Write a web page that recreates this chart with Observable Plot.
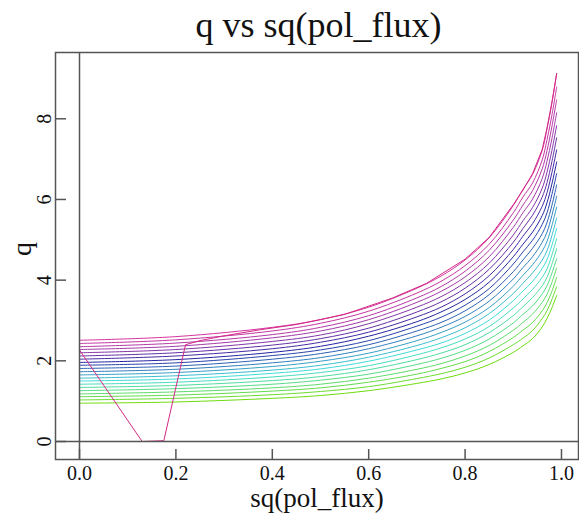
<!DOCTYPE html>
<html><head><meta charset="utf-8">
<script src="https://cdn.jsdelivr.net/npm/d3@7"></script>
<script src="https://cdn.jsdelivr.net/npm/@observablehq/plot@0.6"></script>
<style>
body{margin:0;background:#fff;}
#title{width:579px;height:50px;box-sizing:border-box;padding-left:58px;text-align:center;font-family:"Liberation Serif",serif;font-size:36px;line-height:50px;color:#111;white-space:nowrap;}
</style></head><body>
<div id="title">q vs sq(pol_flux)</div>
<div id="chart"></div>
<script>
const xTicks = [0, 0.2, 0.4, 0.6, 0.8, 1.0];
const yTicks = [0, 2, 4, 6, 8];
const xGrid = [0, 0.2, 0.4, 0.5, 0.6, 0.7, 0.75, 0.8, 0.85, 0.9, 0.92, 0.94, 0.96, 0.97, 0.98, 0.99];
// q profiles, bottom (green) to top (magenta)
const curves = [
  [0.95, 0.98, 1.07, 1.14, 1.26, 1.44, 1.55, 1.70, 1.91, 2.21, 2.37, 2.55, 2.84, 3.05, 3.31, 3.62],
  [1.03, 1.07, 1.16, 1.24, 1.36, 1.56, 1.68, 1.84, 2.07, 2.40, 2.56, 2.75, 3.05, 3.24, 3.52, 3.84],
  [1.11, 1.15, 1.25, 1.33, 1.47, 1.67, 1.81, 1.98, 2.23, 2.58, 2.76, 2.95, 3.24, 3.44, 3.72, 4.07],
  [1.18, 1.23, 1.33, 1.42, 1.57, 1.79, 1.93, 2.12, 2.38, 2.76, 2.95, 3.16, 3.45, 3.65, 3.94, 4.30],
  [1.26, 1.31, 1.42, 1.52, 1.67, 1.91, 2.06, 2.26, 2.54, 2.94, 3.15, 3.36, 3.66, 3.86, 4.17, 4.53],
  [1.34, 1.39, 1.51, 1.61, 1.78, 2.03, 2.19, 2.40, 2.70, 3.12, 3.34, 3.57, 3.86, 4.07, 4.39, 4.78],
  [1.42, 1.47, 1.60, 1.71, 1.88, 2.15, 2.32, 2.54, 2.85, 3.31, 3.53, 3.77, 4.07, 4.28, 4.62, 5.03],
  [1.50, 1.55, 1.69, 1.80, 1.99, 2.27, 2.44, 2.68, 3.01, 3.49, 3.73, 3.97, 4.29, 4.51, 4.86, 5.28],
  [1.57, 1.63, 1.77, 1.89, 2.09, 2.38, 2.57, 2.82, 3.17, 3.67, 3.92, 4.18, 4.50, 4.73, 5.10, 5.54],
  [1.65, 1.71, 1.86, 1.99, 2.19, 2.50, 2.70, 2.96, 3.32, 3.85, 4.12, 4.38, 4.72, 4.96, 5.35, 5.81],
  [1.73, 1.79, 1.95, 2.08, 2.30, 2.62, 2.83, 3.10, 3.48, 4.03, 4.31, 4.58, 4.94, 5.19, 5.60, 6.08],
  [1.81, 1.87, 2.04, 2.18, 2.40, 2.74, 2.95, 3.24, 3.64, 4.21, 4.50, 4.79, 5.15, 5.43, 5.85, 6.36],
  [1.89, 1.95, 2.13, 2.27, 2.50, 2.86, 3.08, 3.38, 3.79, 4.40, 4.70, 4.99, 5.38, 5.67, 6.12, 6.64],
  [1.96, 2.03, 2.21, 2.36, 2.61, 2.97, 3.21, 3.52, 3.95, 4.58, 4.89, 5.19, 5.60, 5.92, 6.38, 6.93],
  [2.04, 2.12, 2.30, 2.46, 2.71, 3.09, 3.33, 3.66, 4.11, 4.76, 5.09, 5.40, 5.83, 6.17, 6.66, 7.23],
  [2.12, 2.20, 2.39, 2.55, 2.81, 3.21, 3.46, 3.80, 4.27, 4.94, 5.28, 5.61, 6.06, 6.42, 6.93, 7.53],
  [2.20, 2.28, 2.48, 2.64, 2.92, 3.33, 3.59, 3.94, 4.42, 5.12, 5.47, 5.80, 6.28, 6.68, 7.21, 7.83],
  [2.28, 2.36, 2.57, 2.74, 3.02, 3.45, 3.72, 4.08, 4.58, 5.31, 5.67, 6.01, 6.52, 6.95, 7.50, 8.15],
  [2.35, 2.44, 2.65, 2.83, 3.12, 3.56, 3.84, 4.22, 4.74, 5.49, 5.86, 6.22, 6.76, 7.21, 7.80, 8.47],
  [2.43, 2.52, 2.74, 2.93, 3.23, 3.68, 3.97, 4.36, 4.89, 5.67, 6.06, 6.41, 6.98, 7.48, 8.08, 8.79],
  [2.51, 2.60, 2.83, 3.02, 3.33, 3.80, 4.10, 4.50, 5.05, 5.85, 6.25, 6.62, 7.22, 7.75, 8.38, 9.12]
];
// the odd profile that dips to zero
const oddX = [0, 0.13, 0.175, 0.22, 0.25, 0.3, 0.375, 0.45, 0.55, 0.65, 0.72, 0.8, 0.85, 0.9, 0.92, 0.94, 0.96, 0.97, 0.98, 0.99];
const oddQ = [2.27, 0.0, 0.02, 2.40, 2.50, 2.62, 2.77, 2.90, 3.15, 3.56, 3.92, 4.52, 5.06, 5.87, 6.23, 6.64, 7.24, 7.77, 8.40, 9.12];

const rows = [];
curves.forEach((qs, k) => qs.forEach((q, j) => rows.push({x: xGrid[j], q, k})));
const odd = oddX.map((x, j) => ({x, q: oddQ[j]}));

const axisColor = "#555";
const chart = Plot.plot({
  width: 579, height: 465,
  marginTop: 2, marginLeft: 55, marginRight: 1, marginBottom: 56,
  x: {domain: [-0.0498, 1.0353]},
  y: {domain: [-0.446, 9.643]},
  color: {type: "linear", domain: [0, 3, 7, 13, 17, 20],
          range: ["#6ddc0e", "#5ddc6a", "#3edcd8", "#2424a2", "#a43aaa", "#d6339e"]},
  style: {fontFamily: "Liberation Serif, serif", fontSize: "20px", color: "#111", background: "white"},
  marks: [
    Plot.line(rows, {x: "x", y: "q", z: "k", stroke: "k", strokeWidth: 1, curve: "catmull-rom"}),
    Plot.line(odd, {x: "x", y: "q", stroke: "#d42a86", strokeWidth: 1}),
    Plot.ruleX([0], {stroke: axisColor, strokeWidth: 1.5}),
    Plot.ruleY([0], {stroke: axisColor, strokeWidth: 1.5}),
    Plot.frame({stroke: axisColor, strokeWidth: 1.5}),
    Plot.axisX(xTicks, {tickSize: -10, tickFormat: () => "", label: null, stroke: axisColor, strokeWidth: 1.5}),
    Plot.axisX(xTicks, {tickSize: 0, tickPadding: 6, tickFormat: d3.format(".1f"), label: null, fontSize: 20}),
    Plot.axisY(yTicks, {tickSize: -11, tickFormat: () => "", label: null, stroke: axisColor, strokeWidth: 1.5}),
    Plot.axisY(yTicks, {tickSize: 0, tickPadding: 5, tickRotate: -90, tickFormat: d => String(d), label: null, fontSize: 20}),
    Plot.text(["q"], {frameAnchor: "left", dx: -33, rotate: -90, fontSize: 28}),
    Plot.text(["sq(pol_flux)"], {frameAnchor: "bottom", dy: 47, fontSize: 27})
  ]
});
document.getElementById("chart").append(chart);
</script></body></html>
